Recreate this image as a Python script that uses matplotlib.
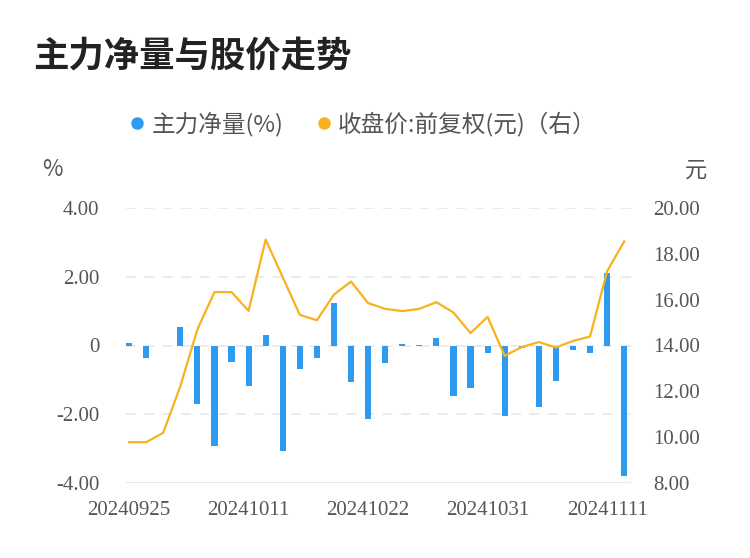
import matplotlib
matplotlib.use("Agg")
import matplotlib.pyplot as plt
from matplotlib.lines import Line2D

# trading days shown on the chart
dates = ["20240925", "20240926", "20240927", "20240930",
         "20241008", "20241009", "20241010", "20241011",
         "20241014", "20241015", "20241016", "20241017", "20241018",
         "20241021", "20241022", "20241023", "20241024", "20241025",
         "20241028", "20241029", "20241030", "20241031", "20241101",
         "20241104", "20241105", "20241106", "20241107", "20241108",
         "20241111", "20241112"]

# main force net amount (%)
net_pct = [0.08, -0.35, 0.0, 0.55, -1.69, -2.92, -0.48, -1.17,
           0.30, -3.08, -0.67, -0.36, 1.23, -1.05, -2.13,
           -0.51, 0.04, 0.02, 0.21, -1.48, -1.25, -0.22, -2.04,
           -0.08, -1.80, -1.03, -0.14, -0.22, 2.10, -3.80]

# close price, forward adjusted (yuan)
close = [9.78, 9.78, 10.19, 12.22, 14.70, 16.33, 16.33, 15.51,
         18.62, 16.98, 15.34, 15.10, 16.22, 16.79, 15.85,
         15.60, 15.50, 15.60, 15.89, 15.44, 14.54, 15.25, 13.55,
         13.93, 14.15, 13.91, 14.20, 14.39, 17.24, 18.54]

left_ticks = [-4, -2, 0, 2, 4]
left_labels = ["-4.00", "-2.00", "0", "2.00", "4.00"]
right_ticks = [8, 10, 12, 14, 16, 18, 20]
tick_idx = [0, 7, 14, 21, 28]

cjk = ["Noto Sans CJK SC", "DejaVu Sans"]
serif = "Liberation Serif"
bar_color = "#2f9bee"
line_color = "#f7b21d"
text_color = "#555555"

fig = plt.figure(figsize=(7.5, 5.58), dpi=100)
ax = fig.add_axes([126 / 750, 75 / 558, 505 / 750, 275 / 558])
ax2 = ax.twinx()

x = list(range(len(dates)))
ax.bar(x, net_pct, width=0.36, color=bar_color, zorder=2)
ax2.plot(x, close, color=line_color, linewidth=1.6, zorder=3)

ax.set_xlim(-0.18, 29.4)
ax.set_ylim(-4, 4)
ax2.set_ylim(8, 20)

ax.set_yticks(left_ticks)
ax.set_yticklabels(left_labels)
ax2.set_yticks(right_ticks)
ax2.set_yticklabels([f"{v:.2f}" for v in right_ticks])
ax.set_xticks(tick_idx)
ax.set_xticklabels([dates[i] for i in tick_idx])

for a in (ax, ax2):
    for s in a.spines.values():
        s.set_visible(False)
    a.tick_params(length=0, labelsize=15, labelcolor=text_color)
    for lab in a.get_xticklabels() + a.get_yticklabels():
        lab.set_fontfamily(serif)
ax.tick_params(axis="y", pad=19)
ax2.tick_params(axis="y", pad=16)
ax.tick_params(axis="x", pad=13)

for v in left_ticks[1:]:
    ax.axhline(v, color="#e8e8e8", linewidth=1.2, linestyle=(0, (6, 5)), zorder=1)
ax.axhline(-4, color="#e8e8e8", linewidth=1.6, zorder=1)

fig.text(33 / 750, 1 - 57 / 558, "主力净量与股价走势", fontsize=25.5, fontweight="bold",
         color="#222222", family=cjk, va="center", ha="left")

fig.text(52 / 750, 1 - 170 / 558, "%", fontsize=16, color=text_color,
         family=cjk, va="center", ha="center")
fig.text(696 / 750, 1 - 170 / 558, "元", fontsize=16, color=text_color,
         family=cjk, va="center", ha="center")

handles = [
    Line2D([], [], marker="o", linestyle="none", markersize=8,
           markerfacecolor=bar_color, markeredgecolor=bar_color),
    Line2D([], [], marker="o", linestyle="none", markersize=8,
           markerfacecolor=line_color, markeredgecolor=line_color),
]
leg = fig.legend(handles, ["主力净量(%)", "收盘价:前复权(元)（右）"],
                 loc="center", bbox_to_anchor=(361 / 750, 1 - 124 / 558),
                 ncol=2, frameon=False, handletextpad=0.1, columnspacing=1.2,
                 handlelength=1.0, prop={"family": cjk, "size": 17})
for t in leg.get_texts():
    t.set_color(text_color)

fig.savefig("out.png", dpi=100)
